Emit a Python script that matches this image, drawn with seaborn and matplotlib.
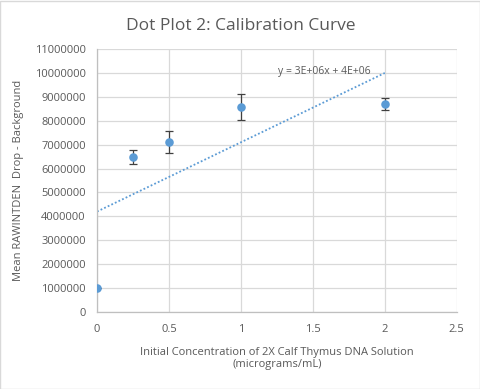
import numpy as np
import pandas as pd
import seaborn as sns
import matplotlib
matplotlib.use("Agg")
import matplotlib.pyplot as plt

# data
conc = [0, 0.25, 0.5, 1, 2]
mean_rawintden = [1000000, 6480000, 7120000, 8570000, 8700000]
err = [0, 300000, 450000, 530000, 270000]

df = pd.DataFrame({"conc": conc, "val": mean_rawintden, "err": err})

sns.set_style("white")
plt.rcParams['font.family'] = ['Open Sans', 'DejaVu Sans']

blue = "#5b9bd5"
txt = "#595959"

fig = plt.figure(figsize=(4.81, 3.89), dpi=100)
ax = fig.add_axes([0.2017, 0.198, 0.748, 0.676])

# trendline (linear fit over data)
sns.regplot(data=df, x="conc", y="val", ci=None, scatter=False, ax=ax,
            truncate=True,
            line_kws={"color": blue, "lw": 1.3, "ls": (0, (1, 1.2))})
slope, icpt = np.polyfit(df["conc"], df["val"], 1)

ax.errorbar(df["conc"], df["val"], yerr=df["err"], fmt="none",
            ecolor="#404040", elinewidth=0.9, capsize=3, capthick=0.9, zorder=3)
sns.scatterplot(data=df, x="conc", y="val", ax=ax, color=blue, s=38,
                edgecolor=blue, linewidth=0, zorder=4)

ax.text(1.26, 10050000, f"y = {slope/1e6:.0f}E+06x + {icpt/1e6:.0f}E+06",
        fontsize=7.5, color=txt, va="center", ha="left")

ax.set_xlim(0, 2.5)
ax.set_ylim(0, 11000000)
ax.set_xticks([0, 0.5, 1, 1.5, 2, 2.5])
ax.set_xticklabels(["0", "0.5", "1", "1.5", "2", "2.5"])
ax.set_yticks(np.arange(0, 11000001, 1000000))
ax.set_yticklabels([str(int(v)) for v in np.arange(0, 11000001, 1000000)])
ax.tick_params(axis="both", labelsize=8, colors=txt, length=0, pad=9)
ax.tick_params(axis="y", pad=8)
ax.grid(True, color="#d9d9d9", lw=0.9)
ax.set_axisbelow(True)
for s in ["top", "right"]:
    ax.spines[s].set_visible(False)
for s in ["left", "bottom"]:
    ax.spines[s].set_color("#bfbfbf")
    ax.spines[s].set_linewidth(0.9)

ax.set_xlabel("Initial Concentration of 2X Calf Thymus DNA Solution\n(micrograms/mL)",
              fontsize=8, color=txt, labelpad=8)
ax.set_ylabel("Mean RAWINTDEN  Drop - Background", fontsize=8, color=txt, labelpad=8)
fig.suptitle("Dot Plot 2: Calibration Curve", fontsize=12.5, color=txt, y=0.955)

# light border round the chart area
fig.patches.append(plt.Rectangle((0.001, 0.001), 0.997, 0.997, transform=fig.transFigure,
                                 fill=False, edgecolor="#d9d9d9", lw=1))

fig.savefig("out.png", dpi=100)
